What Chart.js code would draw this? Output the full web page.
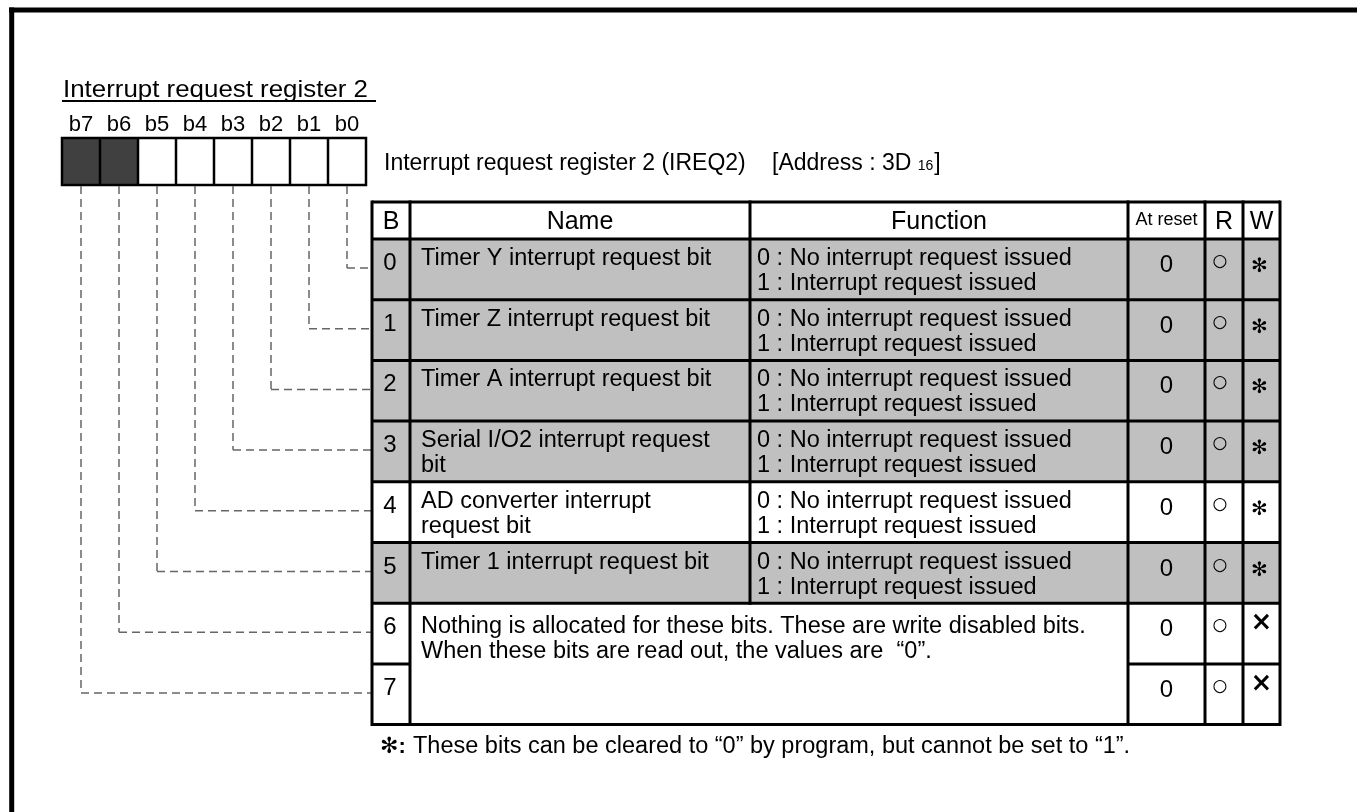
<!DOCTYPE html>
<html>
<head>
<meta charset="utf-8">
<script src="https://cdn.jsdelivr.net/npm/chart.js@4.4.1/dist/chart.umd.min.js"></script>
<style>
  html, body { margin: 0; background: #fff; }
  #wrap { width: 1357px; height: 812px; }
</style>
</head>
<body>
<div id="wrap"><canvas id="reg" width="1357" height="812"></canvas></div>
<script>
// Register bit map for IREQ2, drawn on a hidden linear x/y scale pair (Chart.js).
const TITLE = "Interrupt request register 2";
const BIT_LABELS = ["b7", "b6", "b5", "b4", "b3", "b2", "b1", "b0"];
const BIT_UNUSED = [true, true, false, false, false, false, false, false];
const REG_NAME = "Interrupt request register 2 (IREQ2)";
const REG_ADDR = "[Address : 3D ";
const REG_SUB = "16";
const REG_END = "]";

const HEADERS = ["B", "Name", "Function", "At reset", "R", "W"];
const BIT_NO = ["0", "1", "2", "3", "4", "5", "6", "7"];
const BIT_NAMES = [
  ["Timer Y interrupt request bit"],
  ["Timer Z interrupt request bit"],
  ["Timer A interrupt request bit"],
  ["Serial I/O2 interrupt request", "bit"],
  ["AD converter interrupt", "request bit"],
  ["Timer 1 interrupt request bit"],
];
const FUNCTIONS = ["0 : No interrupt request issued", "1 : Interrupt request issued"];
const UNUSED_TEXT = [
  "Nothing is allocated for these bits. These are write disabled bits.",
  "When these bits are read out, the values are  \u201c0\u201d.",
];
const AT_RESET = ["0", "0", "0", "0", "0", "0", "0", "0"];
const READ = ["\u25cb", "\u25cb", "\u25cb", "\u25cb", "\u25cb", "\u25cb", "\u25cb", "\u25cb"];
const WRITE = ["\u273b", "\u273b", "\u273b", "\u273b", "\u273b", "\u273b", "\u00d7", "\u00d7"];
const SHADED = [true, true, true, true, false, true, false, false];
const NOTE_MARK = "\u273b:";
const NOTE = "These bits can be cleared to \u201c0\u201d by program, but cannot be set to \u201c1\u201d.";

// layout (page units = pixels of the 1357x812 picture)
const FONT = "'Liberation Sans', Arial, 'DejaVu Sans', sans-serif";
const SYM = "'DejaVu Sans', sans-serif";
const COL_X = [372, 410, 750, 1128, 1205, 1243, 1280];
const HEAD_Y = 202, ROW_Y0 = 239, ROW_H = 60.7;
const BOX_X = 62, BOX_W = 38, BOX_Y = 138, BOX_H = 47;
const GREY = "#c0c0c0";
const BODY = 23.5;

const registerMap = {
  id: "registerMap",
  afterDraw(chart) {
    const { ctx, scales: { x, y } } = chart;
    const X = (v) => x.getPixelForValue(v);
    const Y = (v) => y.getPixelForValue(v);
    const rowTop = (i) => ROW_Y0 + i * ROW_H;
    const bottom = rowTop(BIT_NO.length);

    function text(s, px, py, { size = BODY, bold = false, align = "left", family = FONT, width } = {}) {
      ctx.save();
      ctx.font = `${bold ? "bold " : ""}${size}px ${family}`;
      ctx.textAlign = align;
      ctx.textBaseline = "alphabetic";
      ctx.fillStyle = "#000";
      const w = ctx.measureText(s).width;
      if (width) {
        ctx.translate(X(px), Y(py));
        ctx.scale((X(px + width) - X(px)) / w, 1);
        ctx.fillText(s, 0, 0);
      } else {
        ctx.fillText(s, X(px), Y(py));
      }
      ctx.restore();
      return w;
    }

    function line(x1, y1, x2, y2, lw = 3, color = "#000", dash = []) {
      ctx.save();
      ctx.strokeStyle = color;
      ctx.lineWidth = lw;
      ctx.setLineDash(dash);
      ctx.beginPath();
      ctx.moveTo(X(x1), Y(y1));
      ctx.lineTo(X(x2), Y(y2));
      ctx.stroke();
      ctx.restore();
    }

    ctx.save();
    ctx.fillStyle = "#fff";
    ctx.fillRect(0, 0, chart.width, chart.height);
    ctx.restore();

    // page frame
    line(9, 10, 1357, 10, 5);
    line(11.7, 7.5, 11.7, 812, 5);

    // title + bit boxes
    text(TITLE, 63, 97, { size: 24, width: 305 });
    line(62, 101, 376, 101, 2);
    BIT_LABELS.forEach((lab, k) => {
      const cx = BOX_X + BOX_W * k + BOX_W / 2;
      text(lab, cx, 131, { size: 22, align: "center" });
      if (BIT_UNUSED[k]) {
        ctx.fillStyle = "#404040";
        ctx.fillRect(X(BOX_X + BOX_W * k), Y(BOX_Y), X(BOX_W) - X(0), Y(BOX_H) - Y(0));
      }
    });
    ctx.save();
    ctx.strokeStyle = "#000";
    ctx.lineWidth = 2.5;
    ctx.strokeRect(X(BOX_X), Y(BOX_Y), X(BOX_W * 8) - X(0), Y(BOX_H) - Y(0));
    ctx.restore();
    for (let k = 1; k < 8; k++) line(BOX_X + BOX_W * k, BOX_Y, BOX_X + BOX_W * k, BOX_Y + BOX_H, 2.5);

    text(REG_NAME, 384, 170, { size: 23 });
    const w1 = text(REG_ADDR, 772, 170, { size: 23 });
    const w2 = text(REG_SUB, 772 + w1, 170, { size: 14 });
    text(REG_END, 772 + w1 + w2 + 1, 170, { size: 23 });

    // row shading
    SHADED.forEach((s, i) => {
      if (!s) return;
      ctx.fillStyle = GREY;
      ctx.fillRect(X(COL_X[0]), Y(rowTop(i)), X(COL_X[6]) - X(COL_X[0]), Y(ROW_H) - Y(0));
    });

    // dashed connectors from each bit box to its row
    BIT_NO.forEach((b, i) => {
      const k = 7 - i;
      const cx = BOX_X + BOX_W * k + BOX_W / 2;
      const hy = rowTop(i) + 29;
      line(cx, BOX_Y + BOX_H + 1, cx, hy, 1.5, "#666", [8, 5]);
      line(cx, hy, COL_X[0], hy, 1.5, "#666", [8, 5]);
    });

    // table grid
    line(COL_X[0], HEAD_Y, COL_X[6], HEAD_Y, 3);
    line(COL_X[0], ROW_Y0, COL_X[6], ROW_Y0, 3);
    for (let i = 1; i <= 6; i++) line(COL_X[0], rowTop(i), COL_X[6], rowTop(i), 3);
    line(COL_X[0], rowTop(7), COL_X[1], rowTop(7), 3);
    line(COL_X[3], rowTop(7), COL_X[6], rowTop(7), 3);
    line(COL_X[0], bottom, COL_X[6], bottom, 3);
    COL_X.forEach((cx, c) => {
      const yEnd = c === 2 ? rowTop(6) : bottom;
      line(cx, HEAD_Y - 1.5, cx, yEnd + 1.5, 3);
    });

    // header
    HEADERS.forEach((h, c) => {
      const cx = (COL_X[c] + COL_X[c + 1]) / 2;
      if (h === "At reset") text(h, cx, 225, { size: 18, align: "center" });
      else text(h, cx, 229, { size: 25, align: "center" });
    });

    // rows
    BIT_NO.forEach((b, i) => {
      const top = rowTop(i);
      text(b, (COL_X[0] + COL_X[1]) / 2 - 1, top + 31, { size: 24, align: "center" });
      if (i < BIT_NAMES.length) {
        BIT_NAMES[i].forEach((s, j) => text(s, COL_X[1] + 11, top + 26 + 25 * j));
        FUNCTIONS.forEach((s, j) => text(s, COL_X[2] + 7, top + 26 + 25 * j));
      }
      text(AT_RESET[i], (COL_X[3] + COL_X[4]) / 2, top + 33, { size: 24, align: "center" });
      text(READ[i], (COL_X[4] + COL_X[5]) / 2 - 4, top + 27, { size: 17, align: "center", family: SYM });
      if (WRITE[i] === "\u00d7") text(WRITE[i], (COL_X[5] + COL_X[6]) / 2, top + 27, { size: 26, bold: true, align: "center", family: SYM });
      else text(WRITE[i], (COL_X[5] + COL_X[6]) / 2 - 2, top + 33, { size: 20, bold: true, align: "center", family: SYM });
    });
    UNUSED_TEXT.forEach((s, j) => text(s, COL_X[1] + 11, rowTop(6) + 30 + 25 * j));

    // footnote
    text(NOTE_MARK, 380, 753, { size: 22, bold: true });
    text(NOTE, 413, 753, { size: 23.5 });
  },
};

new Chart(document.getElementById("reg"), {
  type: "scatter",
  data: { datasets: [] },
  options: {
    responsive: false,
    animation: false,
    layout: { padding: 0 },
    plugins: { legend: { display: false }, tooltip: { enabled: false } },
    scales: {
      x: { type: "linear", min: 0, max: 1357, display: false },
      y: { type: "linear", min: 0, max: 812, reverse: true, display: false },
    },
  },
  plugins: [registerMap],
});
</script>
</body>
</html>
